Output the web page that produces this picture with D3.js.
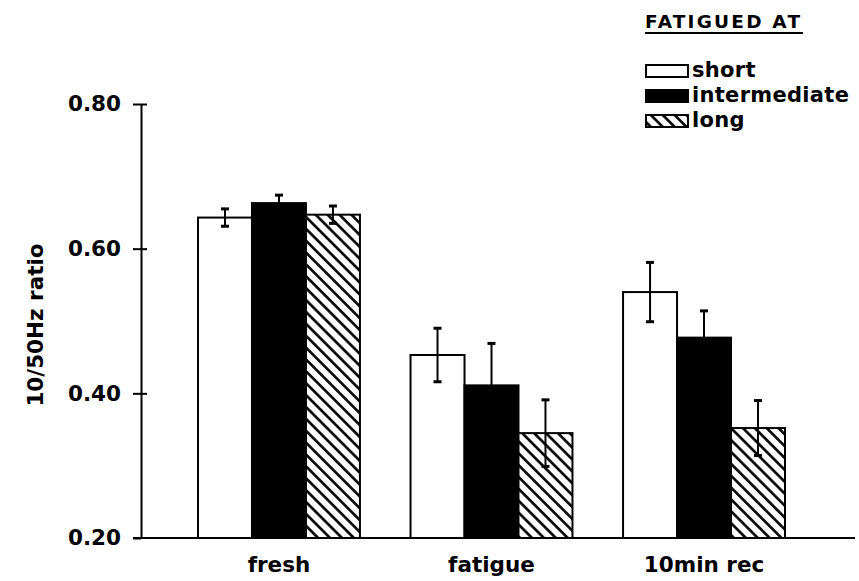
<!DOCTYPE html>
<html>
<head>
<meta charset="utf-8">
<script src="https://cdn.jsdelivr.net/npm/d3@7"></script>
<style>
  html, body { margin: 0; padding: 0; background: #fff; }
  svg { display: block; }
  text { font-family: "DejaVu Sans", sans-serif; font-weight: bold; fill: #000; }
</style>
</head>
<body>
<svg id="chart" width="859" height="581"></svg>
<script>
// Conditions and fatigue groups
const categories = ["fresh", "fatigue", "10min rec"];
const series = ["short", "intermediate", "long"];

// Mean 10/50Hz ratio per condition, one array per group
const shortMeans = [0.643, 0.453, 0.540];
const intermediateMeans = [0.663, 0.411, 0.477];
const longMeans = [0.647, 0.345, 0.352];

// Error bar half-lengths
const shortErr = [0.012, 0.037, 0.041];
const intermediateErr = [0.011, 0.058, 0.037];
const longErr = [0.012, 0.046, 0.038];

const yTicks = [0.20, 0.40, 0.60, 0.80];

const means = [shortMeans, intermediateMeans, longMeans];
const errs = [shortErr, intermediateErr, longErr];

const svg = d3.select("#chart");

// Hatch pattern for the "long" group
const defs = svg.append("defs");
defs.append("pattern")
  .attr("id", "hatch")
  .attr("patternUnits", "userSpaceOnUse")
  .attr("width", 8.4)
  .attr("height", 8.4)
  .attr("patternTransform", "rotate(45)")
  .call(p => {
    p.append("rect").attr("width", 8.4).attr("height", 8.4).attr("fill", "#fff");
    p.append("line").attr("x1", 0).attr("x2", 8.4).attr("y1", 4.2).attr("y2", 4.2)
      .attr("stroke", "#000").attr("stroke-width", 2.6);
  });

const fills = { short: "#fff", intermediate: "#000", long: "url(#hatch)" };

const axisX = 141;
const baseY = 538;

const x0 = d3.scaleBand().domain(categories).range([198, 785]).paddingInner(0.238).paddingOuter(0);
const x1 = d3.scaleBand().domain(series).range([0, x0.bandwidth()]).padding(0);
const y = d3.scaleLinear().domain([0.2, 0.8]).range([baseY, 104]);

// Rows: one per bar
const rows = [];
categories.forEach((c, ci) => {
  series.forEach((s, si) => {
    rows.push({ cat: c, ser: s, v: means[si][ci], e: errs[si][ci] });
  });
});

// Bars
const bars = svg.append("g");
bars.selectAll("rect")
  .data(rows)
  .join("rect")
  .attr("x", d => x0(d.cat) + x1(d.ser))
  .attr("y", d => y(d.v))
  .attr("width", x1.bandwidth())
  .attr("height", d => y(0.2) - y(d.v))
  .attr("fill", d => fills[d.ser])
  .attr("stroke", "#000")
  .attr("stroke-width", 2);

// Error bars
const eb = svg.append("g").attr("stroke", "#000");
const ebg = eb.selectAll("g").data(rows).join("g")
  .attr("transform", d => `translate(${x0(d.cat) + x1(d.ser) + x1.bandwidth() / 2},0)`);
ebg.append("line")
  .attr("y1", d => y(d.v + d.e)).attr("y2", d => y(d.v - d.e))
  .attr("stroke-width", 2);
ebg.append("line")
  .attr("x1", -4).attr("x2", 4)
  .attr("y1", d => y(d.v + d.e)).attr("y2", d => y(d.v + d.e))
  .attr("stroke-width", 3);
ebg.append("line")
  .attr("x1", -4).attr("x2", 4)
  .attr("y1", d => y(d.v - d.e)).attr("y2", d => y(d.v - d.e))
  .attr("stroke-width", 3);

// Y axis
const yAxis = svg.append("g")
  .attr("transform", `translate(${axisX},0)`)
  .call(d3.axisLeft(y).tickValues(yTicks).tickFormat(d3.format(".2f"))
    .tickSizeInner(8).tickSizeOuter(0).tickPadding(12));
yAxis.select(".domain").attr("stroke-width", 2);
yAxis.selectAll(".tick line").attr("stroke-width", 2)
  .attr("x1", d => d === 0.2 ? 0 : 6);
yAxis.selectAll(".tick text").attr("font-size", 21.5)
  .attr("font-family", "DejaVu Sans").attr("font-weight", "bold");

// X baseline
svg.append("line")
  .attr("x1", 133).attr("x2", 855)
  .attr("y1", baseY).attr("y2", baseY)
  .attr("stroke", "#000").attr("stroke-width", 2);

// Category labels
const xAxis = svg.append("g")
  .attr("transform", `translate(0,${baseY})`)
  .call(d3.axisBottom(x0).tickSize(0).tickPadding(19));
xAxis.select(".domain").remove();
xAxis.selectAll(".tick text").attr("font-size", 21.5)
  .attr("font-family", "DejaVu Sans").attr("font-weight", "bold");

// Y axis title
svg.append("text")
  .attr("transform", "translate(43,325) rotate(-90)")
  .attr("text-anchor", "middle")
  .attr("font-size", 21.5)
  .text("10/50Hz ratio");

// Legend
const legend = svg.append("g");
legend.append("text")
  .attr("x", 645).attr("y", 28)
  .attr("font-size", 18.5)
  .attr("letter-spacing", 2.2)
  .text("FATIGUED AT");
legend.append("line")
  .attr("x1", 645).attr("x2", 803).attr("y1", 33).attr("y2", 33)
  .attr("stroke", "#000").attr("stroke-width", 2);

const li = legend.selectAll("g.item").data(series).join("g")
  .attr("class", "item")
  .attr("transform", (d, i) => `translate(645,${77 + i * 25})`);
li.append("rect")
  .attr("x", 1).attr("y", -12).attr("width", 42).attr("height", 12)
  .attr("fill", d => fills[d]).attr("stroke", "#000").attr("stroke-width", 2);
li.append("text")
  .attr("x", 47).attr("y", 0)
  .attr("font-size", 21)
  .attr("letter-spacing", 0.3)
  .text(d => d);
</script>
</body>
</html>
